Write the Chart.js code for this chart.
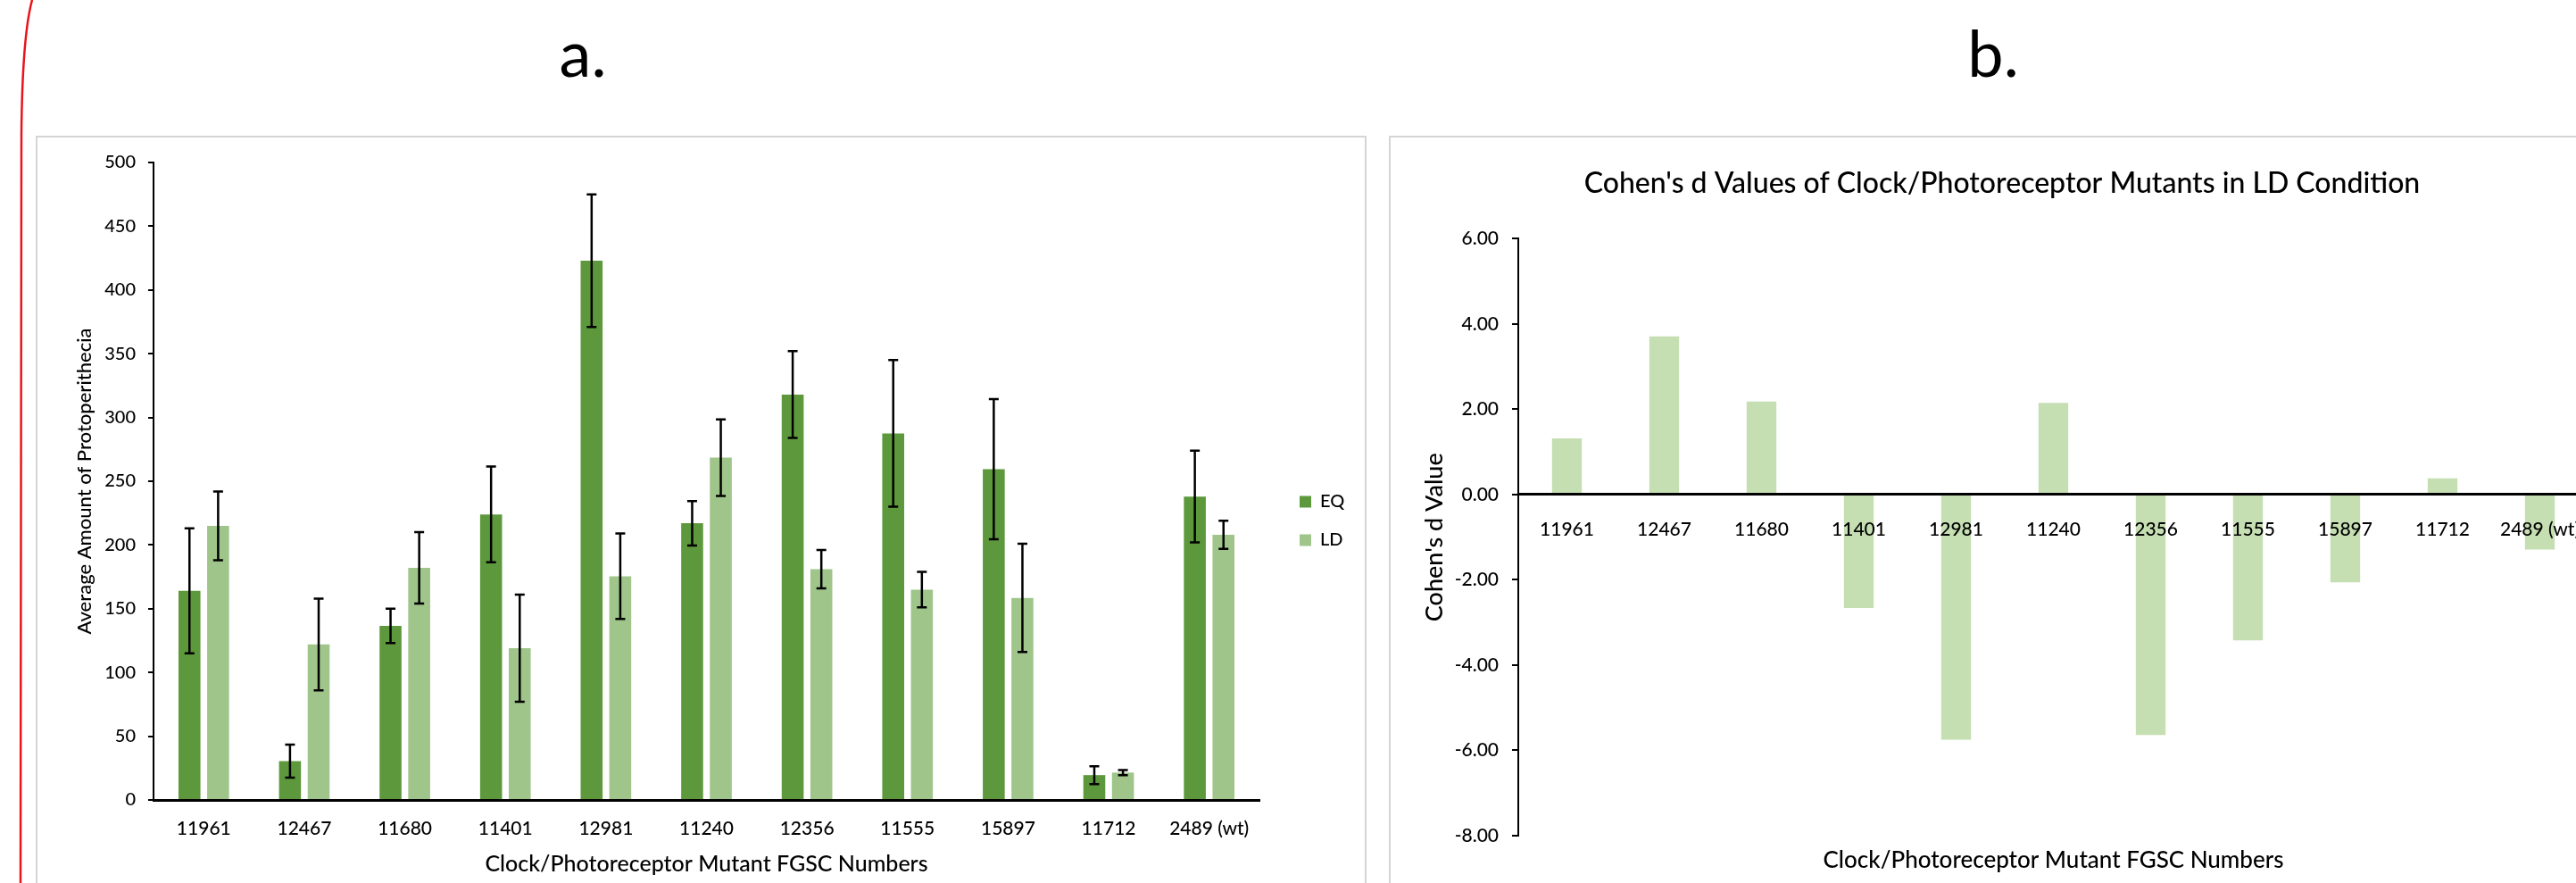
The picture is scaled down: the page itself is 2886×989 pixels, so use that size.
<!DOCTYPE html>
<html>
<head>
<meta charset="utf-8">
<title>Protoperithecia counts and Cohen's d</title>
<script src="https://cdn.jsdelivr.net/npm/chart.js@4.4.1/dist/chart.umd.min.js"></script>
<style>
  html, body { margin: 0; padding: 0; background: #fff; }
  body { width: 2886px; height: 989px; overflow: hidden; position: relative; font-family: Lato, "Open Sans", sans-serif; }
  .letter { position: absolute; top: 22px; font-size: 72px; line-height: 1; color: #000; transform: translateX(-50%); }
  .frame { position: absolute; border: 2px solid #d5d5d5; box-sizing: border-box; }
  .holder { position: absolute; }
  .holder canvas { display: block; }
  svg.edge { position: absolute; left: 0; top: 0; }
</style>
</head>
<body>
<svg class="edge" width="60" height="989"><path d="M36,0 Q25,40 24,150 L23,989" fill="none" stroke="#e8141b" stroke-width="2.5"/></svg>

<div class="letter" style="left:653px">a.</div>
<div class="letter" style="left:2233px">b.</div>

<div class="frame" style="left:40px;top:152px;width:1491px;height:900px"></div>
<div class="frame" style="left:1556px;top:152px;width:1400px;height:900px"></div>

<div class="holder" style="left:42px;top:154px"><canvas id="countChart" width="1485" height="835"></canvas></div>
<div class="holder" style="left:1558px;top:154px"><canvas id="cohenChart" width="1370" height="835"></canvas></div>

<script>
// FGSC strain numbers of the clock / photoreceptor mutants
const mutants = ['11961', '12467', '11680', '11401', '12981', '11240', '12356', '11555', '15897', '11712', '2489 (wt)'];

// Average protoperithecia per strain, with error bar half-lengths
const eqMeans  = [164, 30.5, 136.5, 224, 423, 217, 318, 287.5, 259.5, 19.5, 238];
const eqErrors = [49, 13, 13.5, 37.5, 52, 17.5, 34, 57.5, 55, 7, 36];
const ldMeans  = [215, 122, 182, 119, 175.5, 268.5, 181, 165, 158.5, 21.5, 208];
const ldErrors = [27, 36, 28, 42, 33.5, 30, 15, 14, 42.5, 2, 11];

// Effect size of each mutant in the LD condition
const cohensD = [1.32, 3.71, 2.18, -2.66, -5.75, 2.15, -5.64, -3.42, -2.06, 0.38, -1.29];

const EQ_COLOR = '#5d993c';
const LD_COLOR = '#9fc58a';
const D_COLOR  = '#c5dfb2';
const X_TITLE  = 'Clock/Photoreceptor Mutant FGSC Numbers';
const TEXT_WEIGHT = 500;

// Whiskers drawn from each dataset's "errors" array on the y scale
const errorBars = {
  id: 'errorBars',
  afterDatasetsDraw(chart, args, opts) {
    const ctx = chart.ctx;
    const y = chart.scales.y;
    chart.data.datasets.forEach((ds, i) => {
      if (!ds.errors) return;
      const meta = chart.getDatasetMeta(i);
      if (meta.hidden) return;
      ctx.save();
      ctx.strokeStyle = opts.color;
      ctx.lineWidth = opts.lineWidth;
      meta.data.forEach((bar, j) => {
        const v = ds.data[j], e = ds.errors[j];
        const top = y.getPixelForValue(v + e);
        const bot = y.getPixelForValue(v - e);
        const x = bar.x, w = opts.capWidth / 2;
        ctx.beginPath();
        ctx.moveTo(x, top); ctx.lineTo(x, bot);
        ctx.moveTo(x - w, top); ctx.lineTo(x + w, top);
        ctx.moveTo(x - w, bot); ctx.lineTo(x + w, bot);
        ctx.stroke();
      });
      ctx.restore();
    });
  }
};

// Places the legend just right of the plot area, below its top edge
const legendPlace = {
  id: 'legendPlace',
  afterLayout(chart, args, opts) {
    const lg = chart.legend;
    if (!lg) return;
    const ca = chart.chartArea;
    lg.left = ca.right + opts.gap;
    lg.right = lg.left + lg.width;
    lg.top = ca.top + opts.offsetY;
    lg.bottom = lg.top + lg.height;
  }
};

function drawCharts() {
  Chart.defaults.font.family = 'Lato, "Open Sans", sans-serif';
  Chart.defaults.font.weight = TEXT_WEIGHT;
  Chart.defaults.color = '#000';

  new Chart(document.getElementById('countChart'), {
    type: 'bar',
    data: {
      labels: mutants,
      datasets: [
        { label: 'EQ', data: eqMeans, errors: eqErrors, backgroundColor: EQ_COLOR },
        { label: 'LD', data: ldMeans, errors: ldErrors, backgroundColor: LD_COLOR }
      ]
    },
    options: {
      responsive: false,
      animation: false,
      datasets: { bar: { categoryPercentage: 0.57, barPercentage: 0.766 } },
      layout: { padding: { top: 28, right: 116, bottom: 0, left: 0 } },
      plugins: {
        legend: {
          position: 'chartArea',
          align: 'start',
          labels: { boxWidth: 13, boxHeight: 13, padding: 23, font: { size: 20 }, color: '#000' }
        },
        tooltip: { enabled: false },
        errorBars: { color: '#000', lineWidth: 2.5, capWidth: 11 },
        legendPlace: { gap: 22, offsetY: 347 }
      },
      scales: {
        x: {
          grid: { display: false, drawTicks: false },
          border: { color: '#000', width: 3 },
          ticks: { font: { size: 21 }, padding: 20, color: '#000' },
          title: { display: true, text: X_TITLE, font: { size: 25 }, padding: { top: 0, bottom: 6 }, color: '#000' },
          afterFit(s) { s.height = 93; }
        },
        y: {
          min: 0, max: 500,
          ticks: { stepSize: 50, font: { size: 20 }, padding: 14, color: '#000' },
          grid: { drawOnChartArea: false, drawTicks: true, tickLength: 6, color: '#000', lineWidth: 2 },
          border: { color: '#000', width: 2 },
          title: { display: true, text: 'Average Amount of Protoperithecia', font: { size: 22 }, padding: { top: 40, bottom: 0 }, color: '#000' },
          afterFit(s) { s.width = 130; }
        }
      }
    },
    plugins: [errorBars, legendPlace]
  });

  new Chart(document.getElementById('cohenChart'), {
    type: 'bar',
    data: {
      labels: mutants,
      datasets: [
        { label: "Cohen's d", data: cohensD, backgroundColor: D_COLOR, categoryPercentage: 0.34, barPercentage: 0.9 }
      ]
    },
    options: {
      responsive: false,
      animation: false,
      layout: { padding: { top: 0, right: 28, bottom: 0, left: 28 } },
      plugins: {
        legend: { display: false },
        tooltip: { enabled: false },
        title: {
          display: true,
          text: "Cohen's d Values of Clock/Photoreceptor Mutants in LD Condition",
          font: { size: 32, weight: TEXT_WEIGHT },
          color: '#000',
          padding: { top: 32, bottom: 43 }
        }
      },
      scales: {
        x: {
          position: { y: 0 },
          grid: { display: false, drawTicks: false },
          border: { color: '#000', width: 3, z: 1 },
          ticks: { font: { size: 21 }, padding: 27, color: '#000', z: 1 }
        },
        x2: {
          type: 'category',
          labels: mutants,
          position: 'bottom',
          grid: { display: false, drawTicks: false },
          border: { display: false },
          ticks: { display: false },
          title: { display: true, text: X_TITLE, font: { size: 26 }, padding: { top: 0, bottom: 10 }, color: '#000' },
          afterFit(s) { s.height = 53; }
        },
        y: {
          min: -8, max: 6,
          ticks: { stepSize: 2, callback: v => Number(v).toFixed(2), font: { size: 21 }, padding: 15, color: '#000' },
          grid: { drawOnChartArea: false, drawTicks: true, tickLength: 7, color: '#000', lineWidth: 2 },
          border: { color: '#000', width: 2 },
          title: { display: true, text: "Cohen's d Value", font: { size: 27 }, padding: { top: 5, bottom: 0 }, color: '#000' },
          afterFit(s) { s.width = 115; }
        }
      }
    }
  });
}

Promise.all([
  document.fonts.load('20px Lato'),
  document.fonts.load('500 20px Lato')
]).catch(() => {}).then(drawCharts);
</script>
</body>
</html>
